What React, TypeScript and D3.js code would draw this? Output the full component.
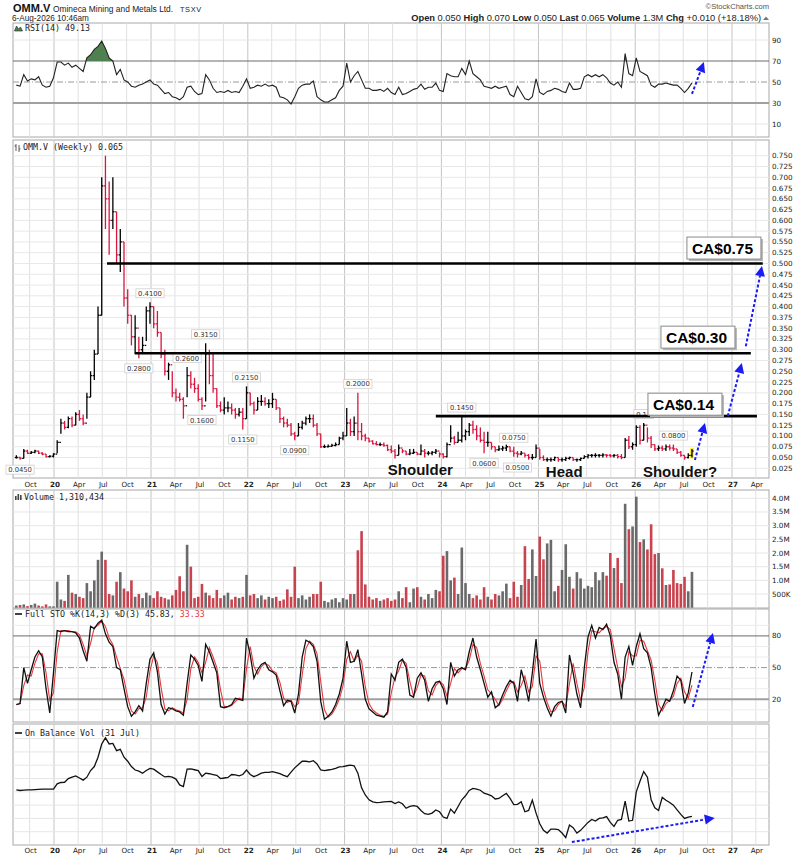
import * as d3 from "d3";

// weekly chart, read every second week starting 12 Aug 2019
const START = new Date(2019, 7, 12);

const high = [
  0.055, 0.052, 0.07, 0.068, 0.065, 0.068, 0.066, 0.062, 0.058, 0.055,
  0.06, 0.09, 0.14, 0.135, 0.145, 0.145, 0.155, 0.16, 0.15, 0.2,
  0.25, 0.3, 0.4, 0.7, 0.75, 0.69, 0.7, 0.62, 0.58, 0.55,
  0.44, 0.38, 0.38, 0.33, 0.33, 0.4, 0.41, 0.4, 0.39, 0.34,
  0.3, 0.27, 0.25, 0.21, 0.2, 0.19, 0.26, 0.25, 0.235, 0.22,
  0.19, 0.315, 0.3, 0.29, 0.21, 0.18, 0.19, 0.18, 0.175, 0.165,
  0.165, 0.165, 0.215, 0.2, 0.18, 0.19, 0.195, 0.19, 0.185, 0.2,
  0.185, 0.165, 0.145, 0.14, 0.13, 0.11, 0.13, 0.135, 0.145, 0.15,
  0.15, 0.13, 0.105, 0.08, 0.08, 0.082, 0.085, 0.098, 0.11, 0.165,
  0.14, 0.145, 0.2, 0.13, 0.105, 0.095, 0.09, 0.088, 0.085, 0.085,
  0.08, 0.078, 0.07, 0.08, 0.07, 0.065, 0.07, 0.07, 0.062, 0.08,
  0.07, 0.065, 0.065, 0.07, 0.062, 0.06, 0.085, 0.125, 0.1, 0.11,
  0.145, 0.115, 0.13, 0.135, 0.125, 0.12, 0.11, 0.11, 0.085, 0.075,
  0.078, 0.077, 0.08, 0.075, 0.075, 0.065, 0.065, 0.06, 0.058, 0.058,
  0.08, 0.07, 0.055, 0.05, 0.05, 0.052, 0.05, 0.05, 0.052, 0.052,
  0.05, 0.048, 0.05, 0.055, 0.058, 0.058, 0.06, 0.058, 0.06, 0.058,
  0.058, 0.058, 0.058, 0.058, 0.095, 0.1, 0.085, 0.125, 0.125, 0.13,
  0.12, 0.1, 0.08, 0.078, 0.078, 0.08, 0.08, 0.08, 0.07, 0.065,
  0.055, 0.06, 0.07,
];

const low = [
  0.048, 0.045, 0.048, 0.058, 0.058, 0.06, 0.058, 0.055, 0.05, 0.05,
  0.05, 0.06, 0.105, 0.115, 0.118, 0.12, 0.125, 0.135, 0.125, 0.14,
  0.19, 0.23, 0.29, 0.38, 0.58, 0.52, 0.58, 0.5, 0.48, 0.4,
  0.36, 0.31, 0.29, 0.28, 0.29, 0.32, 0.36, 0.35, 0.33, 0.28,
  0.24, 0.23, 0.19, 0.18, 0.18, 0.14, 0.19, 0.21, 0.2, 0.18,
  0.16, 0.18, 0.22, 0.2, 0.165, 0.155, 0.15, 0.155, 0.15, 0.14,
  0.145, 0.115, 0.14, 0.17, 0.15, 0.16, 0.17, 0.17, 0.165, 0.165,
  0.16, 0.13, 0.12, 0.12, 0.1, 0.09, 0.1, 0.115, 0.125, 0.13,
  0.12, 0.1, 0.072, 0.072, 0.073, 0.075, 0.076, 0.08, 0.09, 0.1,
  0.1, 0.1, 0.09, 0.09, 0.088, 0.085, 0.08, 0.078, 0.077, 0.075,
  0.065, 0.06, 0.048, 0.055, 0.06, 0.055, 0.055, 0.058, 0.055, 0.055,
  0.05, 0.055, 0.055, 0.058, 0.05, 0.048, 0.05, 0.085, 0.08, 0.085,
  0.085, 0.09, 0.1, 0.105, 0.09, 0.085, 0.06, 0.075, 0.068, 0.062,
  0.065, 0.065, 0.065, 0.062, 0.052, 0.05, 0.055, 0.05, 0.045, 0.045,
  0.05, 0.045, 0.042, 0.04, 0.04, 0.042, 0.04, 0.04, 0.042, 0.045,
  0.042, 0.04, 0.042, 0.048, 0.048, 0.05, 0.05, 0.05, 0.05, 0.05,
  0.05, 0.05, 0.048, 0.046, 0.05, 0.07, 0.068, 0.075, 0.08, 0.09,
  0.085, 0.072, 0.065, 0.065, 0.065, 0.065, 0.066, 0.065, 0.058, 0.052,
  0.045, 0.048, 0.05,
];

const close = [
  0.05, 0.048, 0.065, 0.06, 0.062, 0.065, 0.06, 0.058, 0.052, 0.053,
  0.058, 0.085, 0.13, 0.12, 0.14, 0.125, 0.15, 0.14, 0.13, 0.19,
  0.24, 0.29, 0.38, 0.68, 0.65, 0.6, 0.62, 0.52, 0.55, 0.42,
  0.38, 0.33, 0.35, 0.3, 0.31, 0.39, 0.4, 0.36, 0.34, 0.29,
  0.25, 0.265, 0.2, 0.19, 0.185, 0.17, 0.24, 0.22, 0.21, 0.185,
  0.17, 0.29, 0.24, 0.21, 0.17, 0.16, 0.165, 0.165, 0.16, 0.15,
  0.155, 0.14, 0.2, 0.175, 0.16, 0.18, 0.18, 0.175, 0.175, 0.185,
  0.165, 0.14, 0.13, 0.125, 0.105, 0.1, 0.12, 0.13, 0.14, 0.14,
  0.125, 0.105, 0.075, 0.075, 0.076, 0.078, 0.08, 0.095, 0.1, 0.13,
  0.11, 0.13, 0.11, 0.1, 0.095, 0.088, 0.082, 0.08, 0.08, 0.078,
  0.068, 0.065, 0.055, 0.072, 0.065, 0.058, 0.06, 0.062, 0.058, 0.065,
  0.06, 0.06, 0.062, 0.065, 0.058, 0.052, 0.08, 0.095, 0.085, 0.09,
  0.1, 0.11, 0.125, 0.115, 0.1, 0.09, 0.085, 0.085, 0.075, 0.068,
  0.07, 0.072, 0.075, 0.065, 0.06, 0.058, 0.06, 0.055, 0.05, 0.05,
  0.072, 0.05, 0.045, 0.045, 0.045, 0.05, 0.045, 0.045, 0.048, 0.05,
  0.045, 0.045, 0.048, 0.052, 0.055, 0.055, 0.055, 0.055, 0.056, 0.055,
  0.054, 0.055, 0.052, 0.05, 0.09, 0.075, 0.08, 0.12, 0.09, 0.125,
  0.095, 0.08, 0.07, 0.072, 0.07, 0.075, 0.072, 0.07, 0.062, 0.055,
  0.05, 0.055, 0.065,
];

// millions of shares
const volume = [
  0.08, 0.1, 0.12, 0.06, 0.1, 0.15, 0.08, 0.05, 0.12, 0.05,
  0.05, 0.95, 0.3, 0.25, 1.2, 0.55, 0.5, 0.4, 0.35, 0.9,
  0.6, 1.0, 1.75, 2.05, 1.75, 0.5, 0.45, 0.95, 1.3, 0.7,
  0.6, 1.0, 0.4, 0.5, 0.35, 0.55, 0.45, 0.35, 0.6, 0.4,
  0.35, 0.3, 0.45, 0.65, 1.15, 0.6, 2.3, 1.5, 0.35, 0.4,
  0.87, 0.55, 0.45, 0.35, 0.65, 0.35, 0.45, 0.55, 0.3, 0.4,
  0.35, 0.4, 1.2, 0.45, 0.5, 0.35, 0.45, 0.3, 0.4, 0.35,
  0.4, 0.25, 0.3, 0.67, 0.4, 1.5, 0.35, 0.45, 0.3, 0.4,
  0.5, 0.5, 0.95, 0.25, 0.2, 0.3, 0.35, 0.2, 0.35, 0.3,
  0.5, 0.5, 2.1, 2.8, 0.85, 0.4, 0.3, 0.35, 0.25, 0.3,
  0.35, 0.25, 0.3, 0.6, 0.35, 0.75, 0.2, 0.7, 0.75, 0.4,
  0.3, 0.5, 0.35, 0.65, 0.6, 1.9, 2.07, 1.0, 1.1, 0.5,
  2.2, 0.9, 0.5, 0.35, 0.45, 0.3, 0.75, 0.4, 0.3, 0.5,
  0.45, 0.6, 0.88, 0.35, 0.95, 0.4, 0.83, 2.25, 1.05, 2.13,
  1.16, 2.6, 1.77, 2.35, 2.48, 0.6, 0.8, 1.38, 2.32, 1.13,
  0.7, 1.3, 1.07, 0.7, 0.8, 0.75, 1.3, 1.0, 1.3, 1.17,
  2.0, 1.45, 1.82, 0.9, 3.8, 2.87, 2.97, 4.06, 2.4, 2.5,
  2.13, 3.05, 1.96, 2.0, 1.44, 0.83, 0.85, 1.38, 0.9, 0.87,
  1.13, 0.6, 1.31,
];

const rsi = [
  47, 46, 57, 51, 53, 52, 55, 47, 45, 46,
  54, 69, 69, 66, 68, 64, 66, 63, 60, 73,
  76, 81, 84, 89, 82, 73, 70, 57, 62, 52,
  50, 46, 45, 47, 48, 50, 52, 48, 47, 43,
  39, 40, 36, 35, 33, 36, 45, 46, 41, 38,
  39, 57, 52, 44, 40, 41, 40, 42, 40, 41,
  40, 46, 53, 44, 45, 47, 46, 48, 46, 47,
  45, 36, 35, 33, 29, 36, 44, 47, 48, 48,
  51, 36, 33, 31, 31, 33, 35, 42, 46, 68,
  50, 56, 60, 52, 44, 44, 42, 42, 43, 41,
  44, 40, 38, 45, 38, 39, 41, 43, 44, 48,
  43, 45, 45, 49, 42, 41, 58, 56, 55, 55,
  63, 57, 70, 58, 55, 52, 46, 45, 44, 46,
  44, 45, 46, 38, 36, 46, 40, 34, 33, 36,
  53, 40, 38, 41, 42, 44, 43, 41, 40, 49,
  43, 43, 44, 55, 57, 55, 57, 55, 57, 54,
  49, 47, 50, 45, 77, 58, 56, 73, 60, 58,
  56, 47, 45, 48, 48, 49, 48, 47, 47, 44,
  40, 44, 49.13,
];

const stoK = [
  15, 16, 50, 35, 48, 60, 66, 60, 30, 7,
  45, 85, 84, 85, 84, 84, 83, 78, 66, 56,
  89, 87, 92, 95, 82, 74, 70, 50, 48, 30,
  13, 4, 8, 14, 9, 35, 58, 64, 46, 15,
  6, 12, 11, 9, 8, 5, 35, 62, 58, 52,
  37, 72, 65, 55, 45, 13, 12, 13, 15, 21,
  20, 19, 78, 62, 40, 48, 53, 55, 48, 46,
  43, 28, 14, 19, 18, 7, 25, 60, 76, 74,
  70, 56, 18, 1, 4, 8, 15, 25, 40, 75,
  55, 56, 67, 44, 20, 11, 8, 5, 4, 3,
  8, 44, 38, 55, 58, 50, 24, 22, 40, 45,
  38, 18, 30, 36, 37, 30, 15, 55, 42, 48,
  50, 48, 65, 78, 60, 48, 35, 22, 27, 12,
  15, 24, 32, 38, 35, 18, 48, 35, 18, 45,
  77, 35, 22, 12, 4, 13, 17, 18, 7, 62,
  45, 25, 12, 50, 79, 90, 78, 88, 86, 91,
  80, 55, 44, 20, 60, 70, 52, 70, 82, 68,
  64, 50, 25, 5, 12, 20, 18, 28, 42, 38,
  16, 26, 45.83,
];

const stoD = [
  15, 16, 33, 43, 42, 54, 63, 63, 45, 19,
  26, 65, 85, 85, 85, 84, 84, 81, 72, 61,
  73, 88, 90, 94, 89, 78, 72, 60, 49, 39,
  22, 9, 6, 11, 12, 22, 47, 61, 55, 31,
  11, 9, 12, 10, 9, 7, 20, 49, 60, 55,
  45, 55, 69, 60, 50, 29, 13, 13, 14, 18,
  21, 20, 49, 70, 51, 44, 51, 54, 52, 47,
  45, 36, 21, 17, 19, 13, 16, 43, 68, 75,
  72, 63, 37, 10, 3, 6, 12, 20, 33, 58,
  65, 56, 62, 56, 32, 16, 10, 7, 5, 4,
  6, 26, 41, 47, 57, 54, 37, 23, 31, 43,
  42, 28, 24, 33, 37, 34, 23, 35, 49, 45,
  49, 49, 57, 72, 69, 54, 42, 29, 25, 20,
  14, 20, 28, 35, 37, 27, 33, 42, 27, 32,
  61, 56, 29, 17, 8, 9, 15, 18, 13, 35,
  54, 35, 19, 31, 65, 85, 84, 83, 87, 89,
  86, 68, 50, 32, 40, 65, 61, 61, 76, 75,
  66, 57, 38, 15, 9, 16, 19, 23, 35, 40,
  27, 21, 33.33,
];

// on balance volume, millions of shares (relative)
const obv = [
  20.7, 20.5, 20.6, 20.7, 20.7, 20.8, 20.9, 21, 21, 21,
  21, 23, 23.5, 23.6, 25, 25.5, 26, 25.2, 24.4, 25.5,
  28, 29.5, 33, 38, 40.3, 38, 38.2, 35.5, 36, 33,
  31.5, 29.5, 28.2, 27.8, 27, 28, 28.8, 28.5, 27.5, 26.5,
  25.6, 25.8, 25.5, 24.8, 22.6, 22, 28.5, 28.6, 28.3, 28,
  25.8, 27, 26.8, 26.5, 26.2, 25, 25.2, 25.4, 26.5, 26.4,
  26, 26.5, 28.2, 26.5, 25.7, 26.3, 27, 27.3, 27.3, 27.6,
  27.2, 26.8, 26.2, 25.7, 27.4, 29, 30.3, 31.5, 31.5, 31.3,
  31.7, 30.5, 28.2, 28, 28.2, 28.4, 28.8, 29.4, 29.5, 29.8,
  30, 29.8, 27, 21.5, 18.8, 17, 16.2, 15.9, 16, 16.2,
  16.3, 16.4, 15.6, 16.2, 15.5, 13.8, 14.5, 14.8, 14.5, 13,
  11.8, 11.5, 12, 13.2, 12.5, 10.5, 10, 13.5, 12, 14.5,
  17, 18.5, 20.5, 21.3, 21, 20.6, 19.5, 19, 18.5, 17.3,
  17.5, 18.5, 19.4, 17.5, 15.2, 15.3, 16.3, 12.5, 13, 16.9,
  12, 8, 5.5, 4.5, 6, 6, 5.8, 4.5, 2.8, 7.5,
  6.5, 4.5, 5.5, 7, 8.5, 9.6, 9, 10, 10.2, 10.7,
  8.5, 7, 9.3, 9.6, 16.5, 9, 9.3, 20, 24, 27.6,
  25.5, 17, 14, 13, 17.9, 16.8, 16, 15, 13.2, 11.5,
  10, 10.5, 10.8,
];

const priceTicks = [
  0.025, 0.05, 0.075, 0.1, 0.125, 0.15, 0.175, 0.2, 0.225, 0.25,
  0.275, 0.3, 0.325, 0.35, 0.375, 0.4, 0.425, 0.45, 0.475, 0.5,
  0.525, 0.55, 0.575, 0.6, 0.625, 0.65, 0.675, 0.7, 0.725, 0.75,
];
const volTicks = [0.5, 1, 1.5, 2, 2.5, 3, 3.5, 4];
const volTickLabels = ["500K", "1.0M", "1.5M", "2.0M", "2.5M", "3.0M", "3.5M", "4.0M"];
const rsiTicks = [10, 30, 50, 70, 90];
const stoTicks = [20, 50, 80];
const obvGrid = [5, 10, 15, 20, 25, 30, 35, 40];

// [label, bar index, above/below]
const swingLabels: [string, number, "hi" | "lo"][] = [
  ["0.0450", 1, "lo"], ["0.4100", 36, "hi"], ["0.2800", 33, "lo"],
  ["0.3150", 51, "hi"], ["0.2600", 46, "hi"], ["0.1600", 50, "lo"],
  ["0.2150", 62, "hi"], ["0.1150", 61, "lo"], ["0.0900", 75, "lo"],
  ["0.2000", 92, "hi"], ["0.1450", 120, "hi"], ["0.0600", 126, "lo"],
  ["0.0750", 134, "hi"], ["0.0500", 135, "lo"], ["0.13", 169, "hi"],
  ["0.0800", 177, "hi"],
];

const levels = [
  { value: 0.5, from: new Date(2020, 6, 19), to: new Date(2027, 3, 27) },
  { value: 0.292, from: new Date(2020, 10, 1), to: new Date(2027, 2, 13) },
  { value: 0.146, from: new Date(2023, 11, 11), to: new Date(2027, 3, 5) },
];
const targets = [
  { text: "CA$0.75", date: new Date(2026, 6, 15), value: 0.5613 },
  { text: "CA$0.30", date: new Date(2026, 3, 8), value: 0.3547 },
  { text: "CA$0.14", date: new Date(2026, 1, 18), value: 0.1992 },
];
const patternWords = [
  { text: "Shoulder", date: new Date(2023, 5, 13), value: 0.009 },
  { text: "Head", date: new Date(2025, 0, 29), value: 0.0045 },
  { text: "Shoulder?", date: new Date(2026, 0, 30), value: 0.0045 },
];
const priceArrows: [Date, number, Date, number][] = [
  [new Date(2026, 7, 14), 0.044, new Date(2026, 8, 21), 0.13],
  [new Date(2026, 11, 16), 0.146, new Date(2027, 1, 7), 0.269],
  [new Date(2027, 1, 22), 0.308, new Date(2027, 3, 24), 0.494],
];
const rsiArrow: [Date, number, Date, number] = [new Date(2026, 7, 3), 38.6, new Date(2026, 8, 17), 69];
const stoArrow: [Date, number, Date, number] = [new Date(2026, 7, 6), 12.7, new Date(2026, 9, 21), 82.8];
const obvArrow: [Date, number, Date, number] = [new Date(2025, 4, 7), 1.1, new Date(2026, 9, 28), 10.2];

const F = "'Liberation Sans', Arial, sans-serif";
const FV = "'DejaVu Sans', Verdana, sans-serif";
const FM = "'DejaVu Sans Mono', monospace";
const RED = "#d9163f";
const BLUE = "#1b1bf5";
const L = 13;
const R = 769;

const panels = [
  { top: 23, bottom: 137 },
  { top: 140, bottom: 478 },
  { top: 490, bottom: 608 },
  { top: 609, bottom: 722 },
  { top: 724, bottom: 845 },
];

function arrowParts(x1: number, y1: number, x2: number, y2: number) {
  const a = Math.atan2(y2 - y1, x2 - x1);
  const len = 10;
  const half = 5;
  const bx = x2 - len * Math.cos(a);
  const by = y2 - len * Math.sin(a);
  const px = -Math.sin(a) * half;
  const py = Math.cos(a) * half;
  return {
    line: { x1, y1, x2: bx, y2: by },
    head: `M${x2},${y2}L${bx + px},${by + py}L${bx - px},${by - py}Z`,
  };
}

function BlueArrow({ x1, y1, x2, y2 }: { x1: number; y1: number; x2: number; y2: number }) {
  const p = arrowParts(x1, y1, x2, y2);
  return (
    <g>
      <line {...p.line} stroke={BLUE} strokeWidth={2} strokeDasharray="3,2" />
      <path d={p.head} fill={BLUE} />
    </g>
  );
}

export default function App() {
  const x = d3.scaleTime().domain([new Date(2020, 0, 1), new Date(2027, 0, 1)]).range([54, 732]);
  const dates = close.map((_, i) => d3.timeDay.offset(START, i * 14));
  const X = (i: number) => x(dates[i]);

  const yRsi = d3.scaleLinear().domain([0, 100]).range([134.5, 29.5]);
  const yPx = d3.scaleLinear().domain([0.025, 0.75]).range([468.3, 155.7]);
  const yVol = d3.scaleLinear().domain([0, 4]).range([607.7, 498.3]);
  const ySto = d3.scaleLinear().domain([0, 100]).range([720.4, 614.8]);
  const yObv = d3.scaleLinear().domain([0, 44]).range([845, 728]);

  const quarters = d3.timeMonth.range(new Date(2019, 9, 1), new Date(2027, 4, 2), 3);
  const isUp = (i: number) => (i === 0 ? true : close[i] >= close[i - 1]);

  const rsiLine = d3.line<number>().x((_, i) => X(i)).y((d) => yRsi(d))(rsi) ?? "";
  const rsiArea =
    d3.area<number>().x((_, i) => X(i)).y0(yRsi(70)).y1((d) => yRsi(d))(rsi) ?? "";
  const kLine = d3.line<number>().x((_, i) => X(i)).y((d) => ySto(d))(stoK) ?? "";
  const dLine = d3.line<number>().x((_, i) => X(i)).y((d) => ySto(d))(stoD) ?? "";
  const obvLine = d3.line<number>().x((_, i) => X(i)).y((d) => yObv(d))(obv) ?? "";

  const last = close.length - 1;

  const axisLabels = (yBase: number) =>
    quarters.map((q, k) => {
      const jan = q.getMonth() === 0;
      return (
        <text
          key={k}
          x={x(q) + 1}
          y={yBase}
          textAnchor="middle"
          fontFamily={FV}
          fontSize={7.2}
          fontWeight={jan ? 700 : 400}
          fill="#222"
        >
          {jan ? String(q.getFullYear() % 100) : d3.timeFormat("%b")(q)}
        </text>
      );
    });

  const hLines = (vals: number[], y: (v: number) => number, stroke: string, w = 1, dash?: string) =>
    vals.map((v, k) => (
      <line key={k} x1={L} x2={R} y1={y(v)} y2={y(v)} stroke={stroke} strokeWidth={w} strokeDasharray={dash} />
    ));

  return (
    <div>
      <style>{"body{margin:0}"}</style>
      <svg width={807} height={857} style={{ display: "block", background: "#fff" }}>
        <defs>
          <clipPath id="rsiTop">
            <rect x={L} y={panels[0].top} width={R - L} height={yRsi(70) - panels[0].top} />
          </clipPath>
        </defs>

        {/* header */}
        <text x={13} y={12} fontFamily={F} fontSize={11} fontWeight={700} fill="#111">
          OMM.V
        </text>
        <text x={53} y={12} fontFamily={F} fontSize={8.4} fill="#222">
          Omineca Mining and Metals Ltd.
        </text>
        <text x={180} y={12} fontFamily={F} fontSize={7.4} fill="#222" letterSpacing={0.6}>
          TSXV
        </text>
        <text x={12} y={21} fontFamily={F} fontSize={8.2} fill="#222">
          6-Aug-2026 10:46am
        </text>
        <text x={769} y={9} textAnchor="end" fontFamily={F} fontSize={7.6} fill="#555">
          ©StockCharts.com
        </text>
        <text x={761} y={21} textAnchor="end" fontFamily={F} fontSize={9.3} fill="#222">
          <tspan fontWeight={700}>Open</tspan> 0.050 <tspan fontWeight={700}>High</tspan> 0.070{" "}
          <tspan fontWeight={700}>Low</tspan> 0.050 <tspan fontWeight={700}>Last</tspan> 0.065{" "}
          <tspan fontWeight={700}>Volume</tspan> 1.3M <tspan fontWeight={700}>Chg</tspan> +0.010 (+18.18%)
        </text>
        <path d="M763,20 L766,16.5 L769,20 Z" fill="#777" />

        {/* panel frames and vertical grid */}
        {panels.map((p, k) => (
          <g key={k}>
            <rect x={L} y={p.top} width={R - L} height={p.bottom - p.top} fill="#fff" stroke="#a8a8a8" />
            {quarters.map((q, j) => (
              <line
                key={j}
                x1={x(q)}
                x2={x(q)}
                y1={p.top}
                y2={p.bottom}
                stroke={q.getMonth() === 0 ? "#c4c4c4" : "#e0e0e0"}
              />
            ))}
          </g>
        ))}

        {/* RSI panel */}
        {hLines([10, 90], yRsi, "#e6e6e6")}
        {hLines([50], yRsi, "#9a9a9a", 1, "6,2,1,2")}
        {hLines([70], yRsi, "#6a6a6a")}
        {hLines([30], yRsi, "#a0a0a0", 2)}
        <path d={rsiArea} fill="#4f8050" clipPath="url(#rsiTop)" />
        <path d={rsiLine} fill="none" stroke="#222" strokeWidth={1.1} />
        {rsiTicks.map((t) => (
          <text key={t} x={772} y={yRsi(t) + 2.5} fontFamily={FV} fontSize={7.2} fill="#222">
            {t}
          </text>
        ))}
        <path d="M14.5,31 L16.5,26 L18.5,29 L20.5,27 L22.5,31 Z" fill="#4f8050" stroke="#222" strokeWidth={0.6} />
        <text x={25} y={31} fontFamily={FM} fontSize={8.3} fill="#222">
          RSI(14) 49.13
        </text>
        {(() => {
          const [d1, v1, d2, v2] = rsiArrow;
          return <BlueArrow x1={x(d1)} y1={yRsi(v1)} x2={x(d2)} y2={yRsi(v2)} />;
        })()}

        {/* price panel */}
        {hLines(priceTicks, yPx, "#e8e8e8")}
        {priceTicks.map((t) => (
          <text key={t} x={772} y={yPx(t) + 2.5} fontFamily={FV} fontSize={7.2} fill="#222">
            {t.toFixed(3)}
          </text>
        ))}
        <rect
          x={X(last) - 2}
          y={yPx(high[last]) - 1}
          width={4}
          height={yPx(low[last]) - yPx(high[last]) + 2}
          fill="#ffee33"
        />
        {close.map((c, i) => {
          const o = i === 0 ? c : close[i - 1];
          const cx = X(i);
          return (
            <g key={i} stroke={isUp(i) ? "#000" : RED} strokeWidth={1.3}>
              <line x1={cx} x2={cx} y1={yPx(high[i])} y2={yPx(low[i])} />
              <line x1={cx - 1.6} x2={cx} y1={yPx(o)} y2={yPx(o)} />
              <line x1={cx} x2={cx + 1.6} y1={yPx(c)} y2={yPx(c)} />
            </g>
          );
        })}
        {swingLabels.map(([t, i, pos], k) => {
          const cx = X(i);
          const cy = pos === "hi" ? yPx(high[i]) - 9 : yPx(low[i]) + 10;
          const w = t.length * 4.2 + 3;
          return (
            <g key={k}>
              <rect x={cx - w / 2} y={cy - 4.5} width={w} height={9} fill="#fff" stroke="#cfcfcf" strokeWidth={0.8} />
              <text x={cx} y={cy + 2.6} textAnchor="middle" fontFamily={FV} fontSize={6.8} fill="#333">
                {t}
              </text>
            </g>
          );
        })}
        {levels.map((lv, k) => (
          <line key={k} x1={x(lv.from)} x2={x(lv.to)} y1={yPx(lv.value)} y2={yPx(lv.value)} stroke="#000" strokeWidth={2.6} />
        ))}
        {targets.map((t, k) => {
          const bx = x(t.date);
          const by = yPx(t.value);
          return (
            <g key={k}>
              <rect x={bx + 2} y={by + 2} width={74} height={22} fill="#b5b5b5" />
              <rect x={bx} y={by} width={74} height={22} fill="#fff" stroke="#8a8a8a" />
              <text x={bx + 5} y={by + 17} fontFamily={F} fontSize={15.5} fontWeight={700} fill="#000">
                {t.text}
              </text>
            </g>
          );
        })}
        {patternWords.map((w, k) => (
          <text key={k} x={x(w.date)} y={yPx(w.value)} fontFamily={F} fontSize={15} fontWeight={700} fill="#111">
            {w.text}
          </text>
        ))}
        {priceArrows.map(([d1, v1, d2, v2], k) => (
          <BlueArrow key={k} x1={x(d1)} y1={yPx(v1)} x2={x(d2)} y2={yPx(v2)} />
        ))}
        <g stroke="#333" strokeWidth={0.8}>
          <line x1={16} x2={16} y1={144} y2={151} />
          <line x1={19} x2={19} y1={145} y2={152} />
          <line x1={14.5} x2={16} y1={146} y2={146} />
          <line x1={19} x2={20.5} y1={149} y2={149} />
        </g>
        <text x={23} y={150} fontFamily={FM} fontSize={8.3} fill="#222">
          OMM.V (Weekly) 0.065
        </text>
        {axisLabels(487)}

        {/* volume panel */}
        {hLines(volTicks, yVol, "#e6e6e6")}
        {volume.map((v, i) => (
          <rect
            key={i}
            x={X(i) - 1.3}
            y={yVol(v)}
            width={2.6}
            height={yVol(0) - yVol(v)}
            fill={isUp(i) ? "#6a6a6a" : "#c9434f"}
          />
        ))}
        {volTicks.map((t, k) => (
          <text key={t} x={772} y={yVol(t) + 2.5} fontFamily={FV} fontSize={7.2} fill="#222">
            {volTickLabels[k]}
          </text>
        ))}
        <g fill="#444">
          <rect x={15} y={496} width={1.6} height={4} />
          <rect x={17.5} y={494} width={1.6} height={6} />
          <rect x={20} y={495} width={1.6} height={5} />
        </g>
        <text x={24} y={500} fontFamily={FM} fontSize={8.3} fill="#222">
          Volume 1,310,434
        </text>

        {/* full stochastics panel */}
        {hLines([10, 30, 40, 60, 70, 90], ySto, "#ececec")}
        {hLines([50], ySto, "#9a9a9a", 1, "6,2,1,2")}
        {hLines([80], ySto, "#6a6a6a")}
        {hLines([20], ySto, "#a0a0a0", 2)}
        <path d={dLine} fill="none" stroke="#e8383d" strokeWidth={1.1} />
        <path d={kLine} fill="none" stroke="#111" strokeWidth={1.3} />
        {stoTicks.map((t) => (
          <text key={t} x={772} y={ySto(t) + 2.5} fontFamily={FV} fontSize={7.2} fill="#222">
            {t}
          </text>
        ))}
        <line x1={15} x2={22} y1={614} y2={614} stroke="#111" strokeWidth={1.6} />
        <text x={25} y={617} fontFamily={FM} fontSize={8.3} fill="#222">
          Full STO %K(14,3) %D(3) 45.83, <tspan fill="#e8383d">33.33</tspan>
        </text>
        {(() => {
          const [d1, v1, d2, v2] = stoArrow;
          return <BlueArrow x1={x(d1)} y1={ySto(v1)} x2={x(d2)} y2={ySto(v2)} />;
        })()}

        {/* on balance volume panel */}
        {hLines(obvGrid, yObv, "#e6e6e6")}
        <path d={obvLine} fill="none" stroke="#111" strokeWidth={1.3} />
        <line x1={15} x2={22} y1={733} y2={733} stroke="#111" strokeWidth={1.6} />
        <text x={25} y={736} fontFamily={FM} fontSize={8.3} fill="#222">
          On Balance Vol (31 Jul)
        </text>
        {(() => {
          const [d1, v1, d2, v2] = obvArrow;
          return <BlueArrow x1={x(d1)} y1={yObv(v1)} x2={x(d2)} y2={yObv(v2)} />;
        })()}
        {axisLabels(853)}
      </svg>
    </div>
  );
}
